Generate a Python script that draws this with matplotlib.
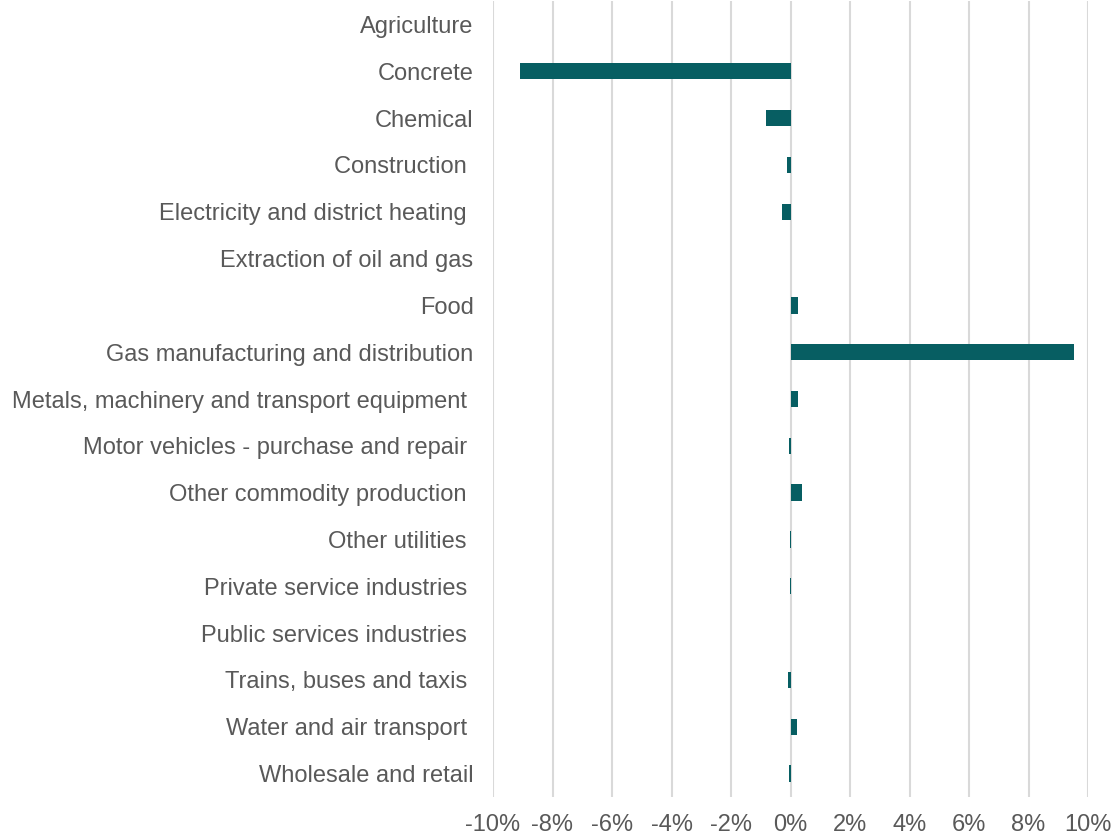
import matplotlib
matplotlib.use("Agg")
import matplotlib.pyplot as plt
from matplotlib.ticker import FuncFormatter, MultipleLocator

categories = [
    "Agriculture",
    "Concrete",
    "Chemical",
    "Construction ",
    "Electricity and district heating ",
    "Extraction of oil and gas",
    "Food",
    "Gas manufacturing and distribution",
    "Metals, machinery and transport equipment ",
    "Motor vehicles - purchase and repair ",
    "Other commodity production ",
    "Other utilities ",
    "Private service industries ",
    "Public services industries ",
    "Trains, buses and taxis ",
    "Water and air transport ",
    "Wholesale and retail",
]
values = [0.0, -9.09, -0.81, -0.11, -0.28, 0.0, 0.26, 9.52, 0.24, -0.06,
          0.39, -0.02, -0.01, 0.0, -0.09, 0.22, -0.05]

plt.rcParams['font.family'] = ['Liberation Sans', 'DejaVu Sans']

fig = plt.figure(figsize=(11.16, 8.38), dpi=100)
ax = fig.add_axes([493 / 1116, 1 - 797 / 838, (1088 - 493) / 1116, (797 - 1) / 838])

pos = list(range(len(categories)))
ax.barh(pos, values, height=0.35, color='#075e62', zorder=3)
ax.set_yticks(pos)
ax.set_yticklabels(categories)
ax.set_ylim(len(categories) - 0.5, -0.5)
ax.set_xlim(-10, 10)
ax.xaxis.set_major_locator(MultipleLocator(2))
ax.xaxis.set_major_formatter(FuncFormatter(lambda v, p: f"{v:.0f}%"))
ax.grid(axis='x', color='#d9d9d9', linewidth=1.5, zorder=0)
for s in ax.spines.values():
    s.set_visible(False)
ax.tick_params(axis='y', length=0, pad=14, labelsize=17, labelcolor='#595959')
ax.tick_params(axis='x', length=0, pad=12, labelsize=17, labelcolor='#595959')

fig.savefig("out.png", dpi=100, facecolor='white')
